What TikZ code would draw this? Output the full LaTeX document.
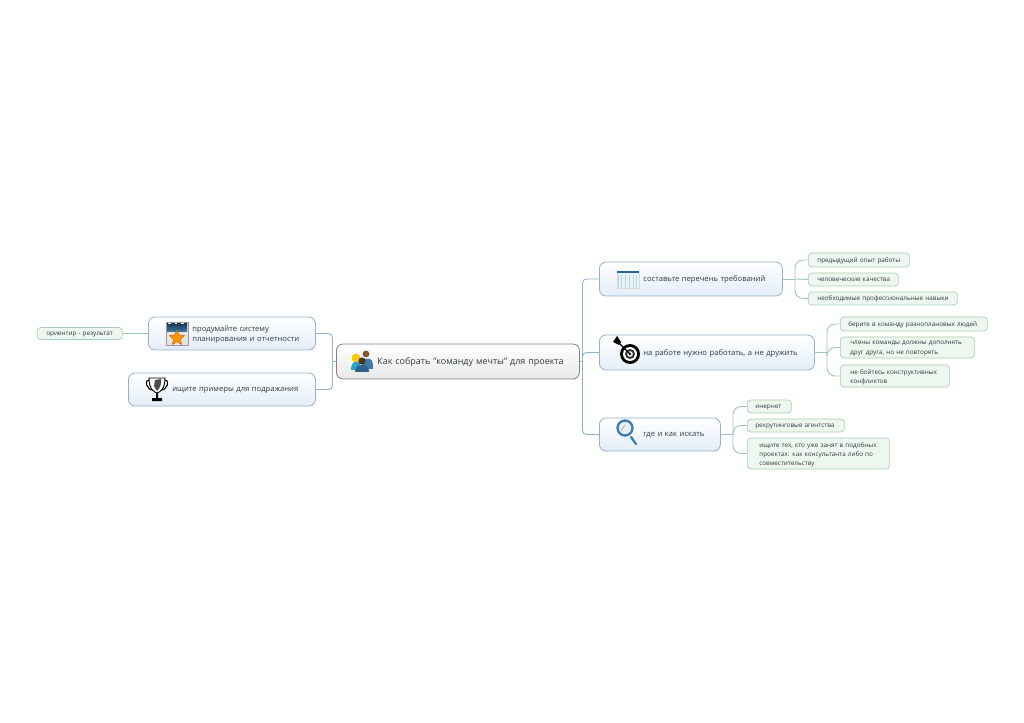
\documentclass[tikz,border=0pt]{standalone}
\usepackage{fontspec}
\setmainfont{Open Sans}
\usetikzlibrary{shapes.geometric}
\newdimen\pxu
\pxu=.75pt
\definecolor{topicline}{HTML}{8FB2CE}
\definecolor{topicfill}{HTML}{E4EDF8}
\definecolor{leafline}{HTML}{A6D0B6}
\definecolor{leaffill}{HTML}{EEF7EF}
\definecolor{inktext}{HTML}{2F3A42}
\definecolor{iconblue}{HTML}{3B7BAE}
\tikzset{
	base/.style={draw,rounded corners=5pt,anchor=west,inner xsep=0pt,inner ysep=0pt,text=inktext,line width=.6pt,text depth=-.5pt},
	boxw/.style={text width=#1*.75pt},
	boxh/.style={minimum height=#1*.75pt},
	pad/.style={execute at begin node={\raggedright\leftskip=#1\pxu\relax}},
	central/.style={base,draw=black!50,top color=white,bottom color=black!9,font=\fontsize{6.7pt}{8pt}\selectfont,pad=41},
	topic/.style={base,draw=topicline,top color=white,bottom color=topicfill,font=\fontsize{5.72pt}{7.9pt}\selectfont,pad=44},
	leaf/.style={base,draw=leafline,fill=leaffill,rounded corners=2.5pt,font=\fontsize{4.75pt}{6.9pt}\selectfont,line width=.5pt},
	trunk/.style={draw=topicline,line width=.7pt,rounded corners=3pt},
	twig/.style={draw=leafline!70!topicline,line width=.7pt,rounded corners=6pt}
}
\begin{document}
\begin{tikzpicture}[x=.75pt,y=-.75pt]
	\useasboundingbox[fill=white] (0,0) rectangle (1024,723);
	\coordinate (ltrunk) at (332.5,361.5);
	\coordinate (rtrunk) at (582.5,361.5);
	\coordinate (j1) at (795,279);
	\coordinate (j2) at (827,352.5);
	\coordinate (j3) at (733,434.5);
	% branches first, boxes sit on top
	\node [central,boxw=243,boxh=35] (main) at (336,361.5) {Как собрать "команду мечты" для проекта};
	\node [topic,boxw=167,boxh=33,text depth=7.4pt] (plan) at (148,333.5) {продумайте систему\\планирования и отчетности};
	\node [topic,boxw=187,boxh=33] (cup) at (128,389.5) {ищите примеры для подражания};
	\node [topic,boxw=183,boxh=34] (list) at (599,279) {составьте перечень требований};
	\node [topic,boxw=215,boxh=35] (work) at (599,352.5) {на работе нужно работать, а не дружить};
	\node [topic,boxw=121,boxh=33] (find) at (599,434.5) {где и как искать};
	\node [leaf,boxw=85,boxh=12,pad=9] (goal) at (37,333.5) {ориентир - результат};
	\node [leaf,boxw=101,boxh=14,pad=9] (list1) at (808,260) {предыдущий опыт работы};
	\node [leaf,boxw=90,boxh=13,pad=9] (list2) at (808,279.5) {человеческие качества};
	\node [leaf,boxw=149,boxh=13,pad=9] (list3) at (808,298.5) {необходимые профессиональные навыки};
	\node [leaf,boxw=147,boxh=14,pad=8] (work1) at (840,324) {берите в команду разноплановых людей};
	\node [leaf,boxw=134,boxh=21,pad=10,text depth=6.4pt] (work2) at (840,347.5) {члены команды должны дополнять\\друг друга, но не повторять};
	\node [leaf,boxw=109,boxh=22,pad=10,text depth=6.4pt] (work3) at (840,376) {не бойтесь конструктивных\\конфликтов};
	\node [leaf,boxw=44,boxh=13,pad=8] (find1) at (747,406.5) {инернет};
	\node [leaf,boxw=97,boxh=13,pad=8] (find2) at (747,425.5) {рекрутинговые агентства};
	\node [leaf,boxw=142,boxh=31,pad=12,text depth=13.3pt] (find3) at (747,453.5) {ищите тех, кто уже занят в подобных\\проектах: как консультанта либо по\\совместительству};
	\draw [trunk] (main.west) -- (ltrunk);
	\draw [trunk] (ltrunk) |- (plan.east);
	\draw [trunk] (ltrunk) |- (cup.east);
	\draw [trunk] (main.east) -- (rtrunk);
	\draw [trunk] (rtrunk) |- (list.west);
	\draw [trunk] (rtrunk) |- (work.west);
	\draw [trunk] (rtrunk) |- (find.west);
	\draw [twig] (plan.west) -- (goal.east);
	\draw [twig] (list.east) -- (j1);
	\draw [twig] (j1) |- (list1.west);
	\draw [twig] (j1) -- (list2.west);
	\draw [twig] (j1) |- (list3.west);
	\draw [twig] (work.east) -- (j2);
	\draw [twig] (j2) |- (work1.west);
	\draw [twig] (j2) |- (work2.west);
	\draw [twig] (j2) |- (work3.west);
	\draw [twig] (find.east) -- (j3);
	\draw [twig] (j3) |- (find1.west);
	\draw [twig] (j3) |- (find2.west);
	\draw [twig] (j3) |- (find3.west);
	% calendar with star
	\draw [black!40,fill=black!10,line width=.6pt] (166,322) rectangle (188,345);
	\fill [top color=iconblue!50!black,bottom color=iconblue] (167,324) rectangle (187,332);
	\draw [white,line width=.5pt,dash pattern=on 2pt off 3pt] (168,323.2) -- (186,323.2);
	\node [star,star points=5,star point ratio=2.1,fill=orange!85!yellow,draw=orange!75!black,line width=.3pt,minimum size=16*.75pt,inner sep=0pt] (staricon) at (177,338) {};
	% trophy
	\draw [black,line width=.8pt] (149,380) .. controls (144,379) and (146,391) .. (154,390);
	\draw [black,line width=.8pt] (165,380) .. controls (170,379) and (168,391) .. (160,390);
	\draw [black,line width=.7pt,fill=white] (149,378) -- (165,378) .. controls (165,388) and (161,392) .. (157,393) .. controls (153,392) and (149,388) .. (149,378) -- cycle;
	\fill [black!70] (155,380) -- (161,379) .. controls (162,385) and (159,389) .. (157,391) -- (154,386) -- cycle;
	\fill [black] (156,393) rectangle (158,398) (152,398) rectangle (162,401);
	% people
	\fill [brown!70!black] (366,354) circle (3.4);
	\fill [iconblue] (361,359) -- (370,359) .. controls (373,360) and (373,365) .. (373,369) -- (362,369) -- cycle;
	\fill [yellow!60!orange] (356,358) circle (4.4);
	\fill [iconblue!70!cyan] (351,370) .. controls (351,365) and (353,362) .. (355,362) -- (360,362) -- (360,370) -- cycle;
	\fill [brown!40!black] (362,361) circle (3.6);
	\fill [iconblue!80!black] (355,372) .. controls (355,367) and (358,365) .. (362,365) .. controls (366,365) and (369,367) .. (369,372) -- cycle;
	% table
	\fill [blue!20!cyan!12!white,draw=black!15] (617,271) rectangle (639,288);
	\fill [iconblue!80!black] (617,271) rectangle (639,273.5);
	\draw [black!20,line width=.3pt,step=3.7] (617,275) grid (639,288);
	% target
	\fill [black] (630,354) circle (10);
	\fill [white] (630,354) circle (7);
	\fill [black!80] (630,354) circle (5);
	\fill [white] (630,354) circle (2.8);
	\fill [black] (630,354) circle (1.4);
	\draw [black,line width=1pt] (617,341) -- (630,354);
	\fill [black] (617,336) -- (621,342) -- (619,345) -- (613,342) -- cycle;
	% magnifier
	\draw [iconblue,line width=1.7pt,line cap=round] (631,437) -- (636,444);
	\draw [iconblue,line width=1.7pt,fill=iconblue!12] (625,428) circle (7.5);
	\draw [black!35,line width=.5pt] (621,431) -- (625,425);
\end{tikzpicture}
\end{document}
